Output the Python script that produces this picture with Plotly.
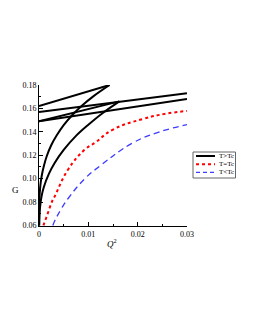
import plotly.graph_objects as go

# ---- data ----
# T>Tc curve 1: small branch (concave) up to cusp, intermediate branch, large branch
q_small1 = [0, 0.00002, 0.0001, 0.0003, 0.0006, 0.001, 0.0016, 0.0025, 0.0036, 0.005, 0.0068, 0.0088, 0.011, 0.0143]
g_small1 = [0.06, 0.0747, 0.0845, 0.095, 0.1035, 0.111, 0.1195, 0.1287, 0.137, 0.1457, 0.1546, 0.1627, 0.1703, 0.180]
q_mid1 = [0, 0.0143]
g_mid1 = [0.162, 0.180]
q_large1 = [0, 0.03]
g_large1 = [0.157, 0.173]

# T>Tc curve 2
q_small2 = [0.00005, 0.0002, 0.0005, 0.001, 0.002, 0.0032, 0.005, 0.0075, 0.010, 0.013, 0.0163]
g_small2 = [0.06, 0.075, 0.0845, 0.093, 0.104, 0.1135, 0.1245, 0.1365, 0.146, 0.1563, 0.166]
q_mid2 = [0, 0.0163]
g_mid2 = [0.149, 0.166]
q_large2 = [0, 0.03]
g_large2 = [0.149, 0.168]

# T=Tc
q_tc = [0.0009, 0.0015, 0.0028, 0.0032, 0.0059, 0.0093, 0.0113, 0.015, 0.0211, 0.0258, 0.03]
g_tc = [0.06, 0.067, 0.082, 0.085, 0.1078, 0.1248, 0.1305, 0.1419, 0.151, 0.1555, 0.1578]

# T<Tc
q_lt = [0.0028, 0.0032, 0.0045, 0.0059, 0.0093, 0.0123, 0.019, 0.0245, 0.03]
g_lt = [0.06, 0.064, 0.074, 0.083, 0.100, 0.1106, 0.1305, 0.140, 0.1461]

legend_labels = ["T>Tc", "T=Tc", "T<Tc"]
y_ticks = [0.06, 0.08, 0.10, 0.12, 0.14, 0.16, 0.18]
x_ticks = [0, 0.01, 0.02, 0.03]
x_ticklabels = ["0", "0.01", "0.02", "0.03"]

SERIF = "Liberation Serif, Times New Roman, serif"
BLUE = "#3c3cff"
RED = "#ff0000"

fig = go.Figure()
black = dict(color="black", width=2)
for qx, gy, shape in [(q_small1, g_small1, "spline"), (q_mid1, g_mid1, "linear"),
                      (q_large1, g_large1, "linear"), (q_small2, g_small2, "spline"),
                      (q_mid2, g_mid2, "linear"), (q_large2, g_large2, "linear")]:
    fig.add_trace(go.Scatter(x=qx, y=gy, mode="lines",
                             line=dict(black, shape=shape, smoothing=1.0 if shape == "spline" else None),
                             showlegend=False, hoverinfo="skip"))
fig.add_trace(go.Scatter(x=q_tc, y=g_tc, mode="lines",
                         line=dict(color=RED, width=2, dash="dot", shape="spline", smoothing=1.3),
                         showlegend=False))
fig.add_trace(go.Scatter(x=q_lt, y=g_lt, mode="lines",
                         line=dict(color=BLUE, width=1.3, dash="6px,4px", shape="spline", smoothing=1.3),
                         showlegend=False))

# plot area in pixels
L, R, T, B = 39, 68, 85, 104
W, H = 255, 330
pw, ph = W - L - R, H - T - B

def px(x):
    return (x - L) / pw

def py(y):
    return (H - B - y) / ph

shapes = []
annotations = []
# manual legend
shapes.append(dict(type="rect", xref="paper", yref="paper",
                   x0=px(193), x1=px(235.5), y0=py(152), y1=py(178),
                   line=dict(color="#666666", width=1), fillcolor="white"))
styles = [dict(color="black", width=2), dict(color=RED, width=2, dash="dot"),
          dict(color=BLUE, width=1.3, dash="4px,3px")]
ys = [156, 164.3, 172.3]
for lab, st, yy in zip(legend_labels, styles, ys):
    shapes.append(dict(type="line", xref="paper", yref="paper",
                       x0=px(196), x1=px(215), y0=py(yy), y1=py(yy), line=st))
    annotations.append(dict(text=lab, xref="paper", yref="paper", x=px(216.5), y=py(yy),
                            xanchor="left", yanchor="middle", showarrow=False,
                            font=dict(family=SERIF, size=7, color="black")))
# axis titles
annotations.append(dict(text="G", xref="paper", yref="paper", x=px(15), y=py(190),
                        xanchor="center", yanchor="middle", showarrow=False,
                        font=dict(family=SERIF, size=9, color="black")))
annotations.append(dict(text="<i>Q</i><sup>2</sup>", xref="paper", yref="paper",
                        x=px(112), y=py(243), xanchor="center", yanchor="middle",
                        showarrow=False, font=dict(family=SERIF, size=9, color="black")))

fig.update_layout(
    width=W, height=H,
    margin=dict(l=L, r=R, t=T, b=B, pad=0),
    paper_bgcolor="white", plot_bgcolor="white",
    showlegend=False,
    shapes=shapes, annotations=annotations,
    xaxis=dict(range=[0, 0.03], tickvals=x_ticks, ticktext=x_ticklabels,
               showgrid=False, zeroline=False, showline=True, linecolor="black",
               linewidth=1, ticks="inside", ticklen=4, tickcolor="black",
               tickfont=dict(family=SERIF, size=8, color="black"),
               minor=dict(dtick=0.005, ticks="inside", ticklen=2, tickcolor="black")),
    yaxis=dict(range=[0.0595, 0.18], tickvals=y_ticks,
               ticktext=["%.2f" % v for v in y_ticks],
               showgrid=False, zeroline=False, showline=True, linecolor="black",
               linewidth=1, ticks="inside", ticklen=4, tickcolor="black",
               tickfont=dict(family=SERIF, size=8, color="black"),
               minor=dict(dtick=0.01, ticks="inside", ticklen=2, tickcolor="black")),
)

fig.write_html("out.html", config={"displayModeBar": False},
               post_script="document.body.style.margin='0';document.body.style.padding='0';")
